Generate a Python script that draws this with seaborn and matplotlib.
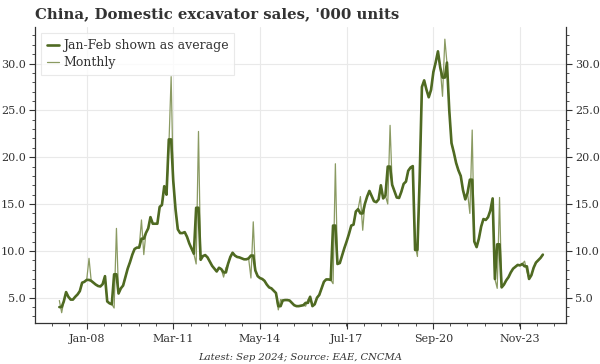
import numpy as np
import pandas as pd
import matplotlib
matplotlib.use("Agg")
import matplotlib.pyplot as plt
import matplotlib.dates as mdates
from matplotlib.ticker import FormatStrFormatter, FixedLocator, MultipleLocator
import seaborn as sns

# ---------------- data (thousand units) ----------------
start_month = "2007-01-01"
monthly = [
    # 2007
    4.7, 3.4, 4.6, 5.6, 5.1, 4.8, 4.8, 5.1, 5.35, 5.7, 6.6, 6.7,
    # 2008
    6.9, 9.2, 6.8, 6.6, 6.4, 6.25, 6.2, 6.45, 7.3, 4.6, 4.4, 4.3,
    # 2009
    3.9, 12.4, 5.45, 6.0, 6.3, 7.2, 8.1, 8.8, 9.6, 10.2, 10.35, 10.35,
    # 2010
    13.3, 9.6, 11.9, 12.4, 13.6, 12.9, 12.9, 12.9, 14.7, 14.9, 16.9, 16.0,
    # 2011
    21.0, 28.6, 17.5, 14.4, 12.3, 11.9, 11.9, 12.0, 11.5, 10.8, 10.25, 9.7,
    # 2012
    8.6, 22.75, 9.05, 9.45, 9.55, 9.3, 8.85, 8.4, 8.1, 7.8, 8.2, 8.05,
    # 2013
    7.2, 8.2, 8.6, 9.35, 9.8, 9.5, 9.35, 9.3, 9.2, 9.1, 9.1, 9.2,
    # 2014
    7.1, 13.1, 7.9, 7.3, 7.1, 7.0, 6.8, 6.4, 6.1, 6.0, 5.75, 5.5,
    # 2015
    3.7, 4.8, 4.7, 4.75, 4.75, 4.7, 4.45, 4.2, 4.1, 4.1, 4.15, 4.2,
    # 2016
    4.1, 4.8, 5.1, 4.1, 4.3, 5.0, 5.3, 6.0, 6.7, 6.95, 6.95, 6.9,
    # 2017
    6.5, 19.3, 8.6, 8.7, 9.5, 10.3, 11.0, 11.8, 12.7, 12.8, 14.2, 14.45,
    # 2018
    15.8, 12.2, 15.0, 15.8, 16.4, 15.85, 15.3, 15.2, 15.5, 17.0, 15.6, 15.9,
    # 2019
    15.0, 23.4, 17.05, 16.35, 15.7, 15.65, 16.3, 17.15, 17.4, 18.55, 18.9, 19.05,
    # 2020
    10.6, 9.4, 17.5, 27.5, 28.2, 27.2, 26.4, 27.2, 29.1, 30.1, 31.3, 29.6,
    # 2021
    26.5, 32.6, 30.1, 25.0, 21.5, 20.5, 19.4, 18.6, 18.0, 16.5, 15.5, 16.2,
    # 2022
    14.0, 22.9, 11.0, 10.4, 11.3, 12.6, 13.4, 13.3, 13.6, 14.3, 15.6, 7.0,
    # 2023
    6.0, 15.7, 6.1, 6.4, 6.85, 7.2, 7.7, 8.1, 8.3, 8.5, 8.45, 8.6,
    # 2024
    8.9, 7.8, 7.0, 7.4, 8.2, 8.75, 9.0, 9.25, 9.6,
]
# Jan-Feb average shown in the thick series, one value per year 2007..2024
avg_years = list(range(2007, 2025))
jan_feb_avg = [4.0, 6.9, 7.5, 11.3, 21.9, 14.6, 7.7, 9.5, 4.1, 4.45,
               12.7, 14.0, 19.0, 10.1, 28.5, 17.6, 10.7, 8.35]

tick_dates = ["2008-01-01", "2011-03-01", "2014-05-01",
              "2017-07-01", "2020-09-01", "2023-11-01"]
tick_labels = ["Jan-08", "Mar-11", "May-14", "Jul-17", "Sep-20", "Nov-23"]
y_ticks = [5, 10, 15, 20, 25, 30]

title = "China, Domestic excavator sales, '000 units"
footer = "Latest: Sep 2024; Source: EAE, CNCMA"

# ---------------- build table ----------------
dates = pd.date_range(start_month, periods=len(monthly), freq="MS")
df = pd.DataFrame({"date": dates, "monthly": monthly})
avg_map = dict(zip(avg_years, jan_feb_avg))
df["avg"] = [avg_map[d.year] if d.month in (1, 2) else v
             for d, v in zip(df["date"], df["monthly"])]

# ---------------- style ----------------
sns.set_theme(style="white")
plt.rcParams["font.family"] = ["DejaVu Serif"]
text_col = "#333333"

fig = plt.figure(figsize=(6.0, 3.64), dpi=100)
ax = fig.add_axes([35 / 600, 1 - 323 / 364, (566 - 35) / 600, (323 - 27) / 364])

thick_col = "#4f6a22"
thin_col = "#8a9a62"

sns.lineplot(data=df, x="date", y="monthly", ax=ax, color=thin_col,
             linewidth=0.9, label="Monthly", zorder=2)
sns.lineplot(data=df, x="date", y="avg", ax=ax, color=thick_col,
             linewidth=1.9, label="Jan-Feb shown as average", zorder=3)

# axes limits
ax.set_ylim(2.3, 33.9)
x_left = mdates.date2num(pd.Timestamp("2006-02-10"))
x_right = mdates.date2num(pd.Timestamp("2025-07-07"))
ax.set_xlim(x_left, x_right)

# x ticks
major = [mdates.date2num(pd.Timestamp(d)) for d in tick_dates]
ax.xaxis.set_major_locator(FixedLocator(major))
ax.set_xticklabels(tick_labels)
step = (major[1] - major[0]) / 5
minor = np.arange(major[0] - 3 * step, x_right, step)
ax.xaxis.set_minor_locator(FixedLocator(minor))

# y ticks
ax.yaxis.set_major_locator(FixedLocator(y_ticks))
ax.yaxis.set_minor_locator(MultipleLocator(1))
ax.yaxis.set_major_formatter(FormatStrFormatter("%.1f"))

ax.set_xlabel("")
ax.set_ylabel("")

ax.grid(True, which="major", color="#e9e9e9", linewidth=0.8)
ax.set_axisbelow(True)

for s in ["left", "right", "bottom"]:
    ax.spines[s].set_visible(True)
    ax.spines[s].set_color(text_col)
    ax.spines[s].set_linewidth(0.9)
ax.spines["top"].set_visible(False)

ax.tick_params(axis="both", which="major", direction="out", length=4,
               width=0.8, color=text_col, labelcolor=text_col, labelsize=8)
ax.tick_params(axis="both", which="minor", direction="out", length=2.5,
               width=0.6, color=text_col)
ax.tick_params(axis="y", which="both", left=True, right=True,
               labelleft=True, labelright=True)
ax.tick_params(axis="y", which="major", pad=2.5)
ax.tick_params(axis="x", which="both", bottom=True, top=False)
ax.tick_params(axis="x", which="major", pad=4)

# legend: thick first
handles, labels = ax.get_legend_handles_labels()
order = [labels.index("Jan-Feb shown as average"), labels.index("Monthly")]
leg = ax.legend([handles[i] for i in order], [labels[i] for i in order],
                loc="upper left", bbox_to_anchor=(0.0, 1.0),
                frameon=True, fontsize=9, handlelength=1.0, handletextpad=0.3,
                borderpad=0.45, labelspacing=0.35, fancybox=False)
leg.get_frame().set_edgecolor("#e4e4e4")
leg.get_frame().set_linewidth(0.8)
for t in leg.get_texts():
    t.set_color(text_col)

fig.text(35 / 600, 1 - 14 / 364, title, fontsize=10.7, fontweight="bold",
         color=text_col, ha="left", va="center")
fig.text(0.5, 1 - 357 / 364, footer, fontsize=7.2, style="italic",
         color=text_col, ha="center", va="center")

fig.savefig("out.png", dpi=100)
